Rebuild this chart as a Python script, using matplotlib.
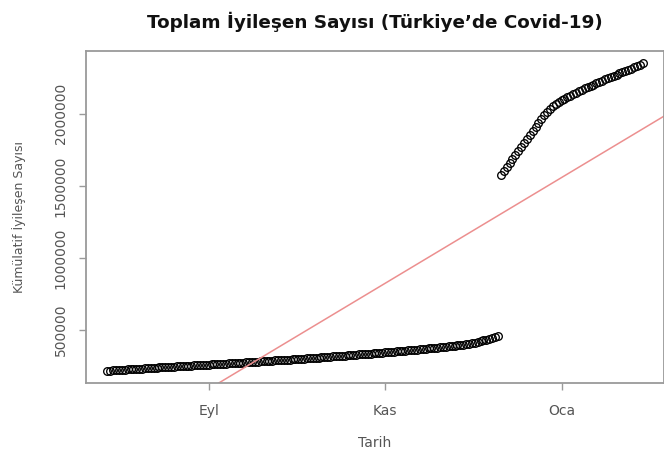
import numpy as np
import pandas as pd
import matplotlib
matplotlib.use('Agg')
import matplotlib.pyplot as plt
import matplotlib.dates as mdates

plt.rcParams['font.family'] = ['DejaVu Sans']

# cumulative recovered, before the reporting change (28 Jul - 10 Dec 2020)
dates_before = pd.date_range('2020-07-28', '2020-12-10')
recovered_before = [
    218900, 220300, 221600, 222900,
    224100, 225400, 226700, 227900, 229100, 230400, 231600, 232800, 234100, 235300,
    236400, 237600, 238900, 240100, 241300, 242400, 243700, 244900, 246000, 247200,
    248500, 249600, 250800, 251900, 253100, 254300, 255400, 256600, 257800, 258900, 260100,
    261300, 262500, 263700, 264800, 266000, 267300, 268500, 269700, 270900, 272100,
    273400, 274600, 275800, 277100, 278300, 279500, 280800, 282100, 283300, 284600,
    285900, 287100, 288400, 289700, 291000, 292300, 293500, 294800, 296100, 297400,
    298800, 300200, 301600, 303000, 304400, 305800, 307300, 308700, 310200, 311600,
    313100, 314600, 316100, 317600, 319100, 320600, 322100, 323700, 325200, 326800,
    328300, 329900, 331500, 333100, 334700, 336300, 337900, 339500, 341200, 342800, 344500,
    346200, 347900, 349600, 351300, 353000, 354800, 356500, 358300, 360100, 361900,
    363700, 365500, 367400, 369200, 371100, 373000, 374900, 376900, 378900, 380900,
    383000, 385100, 387300, 389600, 392000, 394600, 397300, 400200, 403300, 406600,
    410300, 414400, 418900, 423800, 429100, 434800, 440900, 447400, 454300, 461600,
]

# cumulative recovered after the change (11 Dec 2020 - 29 Jan 2021)
dates_after = pd.date_range('2020-12-11', '2021-01-29')
recovered_after = [
    1572000, 1600000, 1628000, 1655000, 1684000, 1712000, 1741000, 1769000, 1797000,
    1826000, 1854000, 1882000, 1910000, 1938000, 1965000, 1990000, 2012000, 2032000,
    2050000, 2066000, 2080000,
    2092000, 2103000, 2114000, 2125000, 2136000, 2146000, 2156000, 2166000, 2175000,
    2184000, 2193000, 2202000, 2211000, 2220000, 2228000, 2237000, 2245000, 2254000,
    2262000, 2271000, 2279000, 2288000, 2296000, 2305000, 2313000, 2322000, 2330000,
    2339000, 2350000,
]

tick_dates = ['2020-09-01', '2020-11-01', '2021-01-01']
tick_labels = ['Eyl', 'Kas', 'Oca']
y_ticks = [500000, 1000000, 1500000, 2000000]

dates = dates_before.append(dates_after)
values = np.array(recovered_before + recovered_after, dtype=float)
x = mdates.date2num(dates)

fig = plt.figure(figsize=(6.64, 4.55), dpi=100)
ax = fig.add_axes([0.1295, 0.1582, 0.8705, 0.7300])

ax.plot(x, values, linestyle='none', marker='o', markersize=5.5,
        markerfacecolor='none', markeredgecolor='black', markeredgewidth=0.95)

# linear trend (like abline(lm(...)) in R)
slope, intercept = np.polyfit(x, values, 1)
ax.axline((x[0], intercept + slope * x[0]), slope=slope, color='#ec8f8f', linewidth=1.1)

# R-style 4% padding
xr = x.max() - x.min()
yr = values.max() - values.min()
ax.set_xlim(x.min() - 0.04 * xr, x.max() + 0.04 * xr)
ax.set_ylim(values.min() - 0.04 * yr, values.max() + 0.04 * yr)

ax.set_xticks(mdates.date2num(pd.to_datetime(tick_dates)))
ax.set_xticklabels(tick_labels)
ax.set_yticks(y_ticks)
ax.set_yticklabels([str(v) for v in y_ticks], rotation=90, va='center')

for s in ax.spines.values():
    s.set_color('#9a9a9a')
    s.set_linewidth(1.3)
ax.tick_params(colors='#9a9a9a', labelcolor='#555555', labelsize=10, length=5, width=1)
ax.tick_params(axis='x', pad=10)
ax.tick_params(axis='y', pad=8)

ax.set_xlabel('Tarih', fontsize=10, color='#555555', labelpad=13)
ax.set_ylabel('Kümülatif İyileşen Sayısı', fontsize=9, color='#555555', labelpad=20)
fig.suptitle('Toplam İyileşen Sayısı (Türkiye’de Covid-19)', x=0.565, y=0.975,
             fontsize=13.2, fontweight='bold', color='#111111')

fig.savefig('out.png', dpi=100)
